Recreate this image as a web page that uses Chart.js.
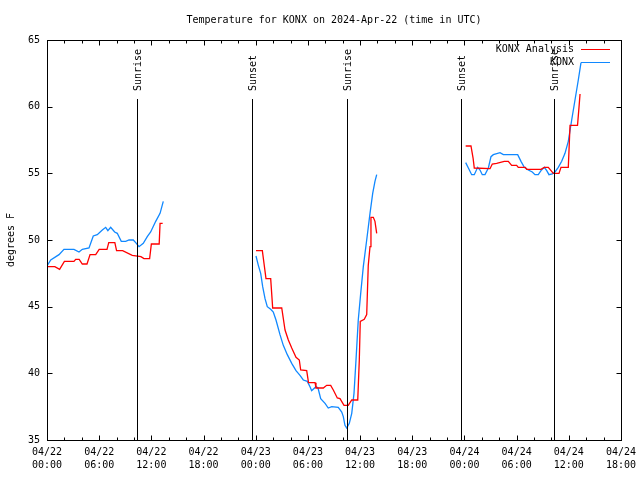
<!DOCTYPE html>
<html>
<head>
<meta charset="utf-8">
<script src="https://cdn.jsdelivr.net/npm/chart.js@4/dist/chart.umd.min.js"></script>
<style>
  html, body { margin: 0; padding: 0; background: #fff; }
</style>
</head>
<body>
<canvas id="chart" width="640" height="480"></canvas>
<script>
// hours since 04/22 00:00 UTC, null = gap in record
const obsHours = [
  0.0, 0.43, 1.38, 1.95, 3.1, 3.68, 4.06, 4.83, 5.32, 5.78, 6.36, 6.75, 7.0, 7.32, 7.78,
  8.08, 8.54, 9.05, 9.43, 9.92, 10.2, 10.58, 11.07, 11.53, 11.92, 12.5, 13.0, 13.37,
  18,
  24.03, 24.3, 24.57, 24.8, 25.07, 25.33, 25.72, 26.02, 26.33, 26.79, 27.17, 27.63, 28.14,
  28.63, 29.09, 29.47, 29.93, 30.24, 30.43, 30.93, 31.16, 31.47, 31.97, 32.34, 32.74,
  33.49, 33.89, 34.07, 34.26, 34.46, 34.76, 35.04, 35.3, 35.53, 35.79, 36.07, 36.37,
  36.76, 37.14, 37.45, 37.71, 37.91,
  43,
  48.14, 48.45, 48.83, 49.13, 49.52, 49.79, 50.05, 50.36, 50.75, 51.05, 51.32, 52.09,
  52.47, 54.12, 54.5, 54.88, 55.34, 55.8, 56.11, 56.49, 56.8, 57.18, 57.46, 57.72, 58.1,
  58.41, 58.79, 59.18, 59.56, 59.94, 60.33, 60.71, 61.09, 61.4
];
const obsTemps = [
  48.05, 48.5, 48.9, 49.3, 49.3, 49.1, 49.3, 49.4, 50.3, 50.4, 50.75, 50.95, 50.7, 50.95, 50.6,
  50.5, 49.9, 49.9, 50.0, 50.0, 49.8, 49.5, 49.75, 50.25, 50.6, 51.4, 52.0, 52.9,
  null,
  48.8, 48.1, 47.5, 46.5, 45.6, 45.0, 44.8, 44.6, 44.0, 42.9, 42.1, 41.4, 40.75,
  40.2, 39.85, 39.5, 39.4, 39.0, 38.7, 39.0, 38.9, 38.1, 37.75, 37.4, 37.5,
  37.45, 37.1, 36.75, 36.1, 35.9, 36.25, 37.0, 38.5, 41.0, 44.0, 46.0, 48.0,
  50.0, 52.0, 53.5, 54.4, 54.9,
  null,
  55.8, 55.4, 54.9, 54.9, 55.45, 55.25, 54.9, 54.9, 55.4, 56.25, 56.4, 56.55,
  56.4, 56.4, 55.9, 55.45, 55.25, 55.1, 54.9, 54.9, 55.2, 55.45, 55.2, 54.9, 54.95,
  55.1, 55.45, 55.9, 56.5, 57.4, 59.0, 60.5, 62.0, 63.3
];

const anaHours = [
  0.0, 0.9, 1.45, 2.0, 3.1, 3.3, 3.7, 4.06, 4.6, 4.95, 5.6, 6.0, 6.9, 7.1, 7.8, 8.0, 8.7,
  9.8, 10.8, 11.15, 11.8, 12.0, 12.9, 13.0, 13.3,
  18,
  24.03, 24.76, 25.18, 25.72, 25.95, 26.99, 27.37, 27.75, 28.14, 28.63, 29.01, 29.17,
  29.86, 30.07, 30.82, 30.93, 31.77, 32.16, 32.62, 32.92, 33.38, 33.69, 34.15, 34.64,
  35.04, 35.73, 35.91, 36.02, 36.48, 36.76, 36.94, 37.14, 37.25, 37.52, 37.71, 37.91,
  43,
  48.14, 48.75, 49.0, 49.13, 50.94, 51.2, 51.7, 52.58, 53.04, 53.43, 54.0, 54.19, 55.0,
  55.16, 56.8, 57.18, 57.64, 58.22, 58.87, 59.1, 59.94, 60.14, 61.0, 61.17, 61.29, 61.4
];
const anaTemps = [
  48.0, 48.0, 47.8, 48.4, 48.4, 48.55, 48.55, 48.2, 48.2, 48.9, 48.9, 49.3, 49.3, 49.8, 49.8, 49.2, 49.2,
  48.85, 48.75, 48.6, 48.6, 49.7, 49.7, 51.25, 51.25,
  null,
  49.2, 49.2, 47.1, 47.1, 44.9, 44.9, 43.25, 42.5, 41.9, 41.2, 41.0, 40.25,
  40.2, 39.3, 39.3, 38.9, 38.9, 39.1, 39.1, 38.75, 38.15, 38.1, 37.6, 37.6,
  38.0, 38.0, 41.0, 43.9, 44.05, 44.4, 48.1, 49.5, 51.7, 51.7, 51.4, 50.5,
  null,
  57.05, 57.05, 56.1, 55.4, 55.35, 55.7, 55.75, 55.9, 55.9, 55.6, 55.6, 55.45, 55.45,
  55.3, 55.3, 55.45, 55.45, 55.0, 55.0, 55.45, 55.45, 58.6, 58.6, 59.95, 60.95, 60.95
];

const sunHours = [10.35, 23.6, 34.46, 47.64, 58.33];
const sunLabels = ['Sunrise', 'Sunset', 'Sunrise', 'Sunset', 'Sunrise'];

const xTickLabels = [
  ['04/22', '00:00'], ['04/22', '06:00'], ['04/22', '12:00'], ['04/22', '18:00'],
  ['04/23', '00:00'], ['04/23', '06:00'], ['04/23', '12:00'], ['04/23', '18:00'],
  ['04/24', '00:00'], ['04/24', '06:00'], ['04/24', '12:00'], ['04/24', '18:00']
];

const seriesNames = ['KONX Analysis', 'KONX'];
const seriesColors = ['#ff0000', '#1088ff'];

const FONT = '"DejaVu Sans Mono", "Liberation Mono", monospace';

function toPoints(xs, ys) {
  return xs.map((x, i) => ({ x: x, y: ys[i] }));
}

// frame, inward ticks, sun lines, title, legend
const decorPlugin = {
  id: 'decor',
  afterDatasetsDraw(chart) {
    const ctx = chart.ctx;
    const a = chart.chartArea;
    const xs = chart.scales.x, ys = chart.scales.y;
    const L = Math.round(a.left) + 0.5, R = Math.round(a.right) + 0.5;
    const T = Math.round(a.top) + 0.5, B = Math.round(a.bottom) + 0.5;
    ctx.save();
    ctx.strokeStyle = '#000';
    ctx.lineWidth = 1;

    // sunrise / sunset lines
    ctx.font = '10px ' + FONT;
    ctx.fillStyle = '#000';
    sunHours.forEach((h, i) => {
      const px = Math.round(xs.getPixelForValue(h)) + 0.5;
      ctx.beginPath();
      ctx.moveTo(px, 99);
      ctx.lineTo(px, B);
      ctx.stroke();
      ctx.save();
      ctx.translate(px + 1, 91);
      ctx.rotate(-Math.PI / 2);
      ctx.textAlign = 'left';
      ctx.textBaseline = 'middle';
      ctx.fillText(sunLabels[i], 0, 0);
      ctx.restore();
    });

    // frame
    ctx.strokeRect(L, T, R - L, B - T);

    // x ticks, major every 6h, minor every 2h
    ctx.beginPath();
    for (let h = 0; h <= 66; h += 2) {
      const px = Math.round(xs.getPixelForValue(h)) + 0.5;
      const len = h % 6 === 0 ? 5 : 3;
      ctx.moveTo(px, B); ctx.lineTo(px, B - len);
      ctx.moveTo(px, T); ctx.lineTo(px, T + len);
    }
    // y ticks
    for (let v = 35; v <= 65; v += 5) {
      const py = Math.round(ys.getPixelForValue(v)) + 0.5;
      ctx.moveTo(L, py); ctx.lineTo(L + 5, py);
      ctx.moveTo(R, py); ctx.lineTo(R - 5, py);
    }
    ctx.stroke();

    // title
    ctx.textAlign = 'center';
    ctx.textBaseline = 'middle';
    ctx.fillText('Temperature for KONX on 2024-Apr-22 (time in UTC)', (a.left + a.right) / 2, 20);

    // y axis title
    ctx.save();
    ctx.translate(11, (a.top + a.bottom) / 2);
    ctx.rotate(-Math.PI / 2);
    ctx.fillText('degrees F', 0, 0);
    ctx.restore();

    // legend
    const legY = [49.5, 62.5];
    seriesNames.forEach((name, i) => {
      ctx.textAlign = 'right';
      ctx.fillStyle = '#000';
      ctx.fillText(name, 574, legY[i]);
      ctx.strokeStyle = seriesColors[i];
      ctx.beginPath();
      ctx.moveTo(581, legY[i]);
      ctx.lineTo(610, legY[i]);
      ctx.stroke();
    });
    ctx.restore();
  }
};

new Chart(document.getElementById('chart'), {
  type: 'line',
  data: {
    datasets: [
      {
        label: seriesNames[0],
        data: toPoints(anaHours, anaTemps),
        borderColor: seriesColors[0],
        borderWidth: 1.3,
        pointRadius: 0,
        tension: 0,
        spanGaps: false
      },
      {
        label: seriesNames[1],
        data: toPoints(obsHours, obsTemps),
        borderColor: seriesColors[1],
        borderWidth: 1.3,
        pointRadius: 0,
        tension: 0,
        spanGaps: false
      }
    ]
  },
  options: {
    responsive: false,
    animation: false,
    events: [],
    layout: { padding: { top: 40, right: 19, left: 0, bottom: 0 } },
    plugins: {
      legend: { display: false },
      title: { display: false },
      tooltip: { enabled: false }
    },
    scales: {
      x: {
        type: 'linear',
        min: 0,
        max: 66,
        grid: { display: false, drawTicks: false },
        border: { display: false },
        afterFit: s => { s.height = 40; s.paddingLeft = 0; s.paddingRight = 0; },
        ticks: {
          stepSize: 6,
          autoSkip: false,
          maxRotation: 0,
          padding: 6,
          color: '#000',
          font: { family: FONT, size: 10, lineHeight: 1.3 },
          callback: v => xTickLabels[Math.round(v / 6)]
        }
      },
      y: {
        min: 35,
        max: 65,
        grid: { display: false, drawTicks: false },
        border: { display: false },
        afterFit: s => { s.width = 47; s.paddingTop = 0; s.paddingBottom = 0; },
        ticks: {
          stepSize: 5,
          padding: 7,
          color: '#000',
          font: { family: FONT, size: 10 }
        }
      }
    }
  },
  plugins: [decorPlugin]
});
</script>
</body>
</html>
